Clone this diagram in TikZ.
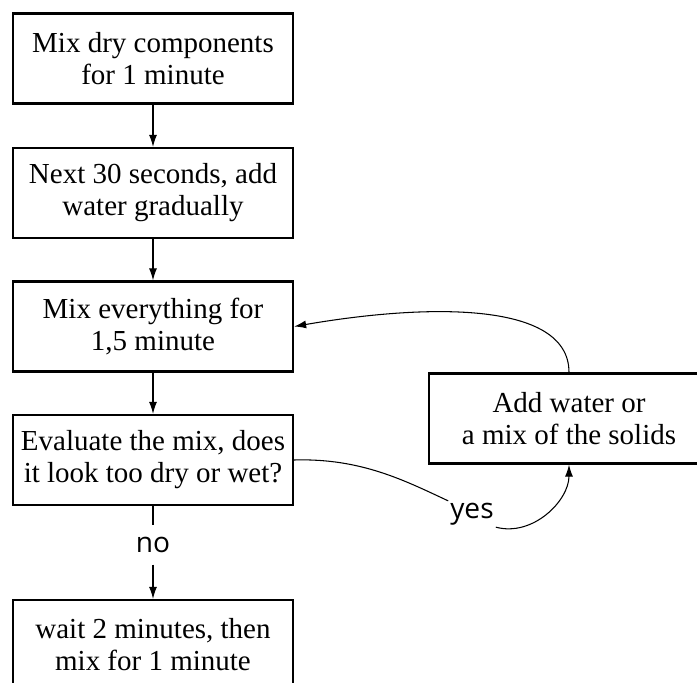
\documentclass[tikz,border=0pt]{standalone}
\usepackage{fontspec}
\setmainfont{Liberation Serif}
\newfontfamily\labelfont{Open Sans}
\usetikzlibrary{arrows.meta}

\begin{document}
\begin{tikzpicture}[
  stepbox/.style={draw, line width=1.3pt, minimum width=5.6cm, minimum height=1.8cm,
    align=center, font=\fontsize{16.5}{18.2}\selectfont},
  answer/.style={font=\labelfont\fontsize{16}{18}\selectfont},
  flow/.style={line width=0.6pt, -{Latex[length=2.4mm,width=1.6mm]}}]
%% frame of the picture, the last boxes run over the edge
\useasboundingbox (0,0) rectangle (13.94,-13.66);
\clip (0,0) rectangle (13.94,-13.66);
%% column of steps on the left
\node[stepbox] (mixdry) at (3.06,-1.17) {Mix dry components\\for 1 minute};
\node[stepbox] (addwater) at (3.06,-3.86) {Next 30 seconds, add\\water gradually};
\node[stepbox] (mixall) at (3.06,-6.53) {Mix everything for\\1,5 minute};
\node[stepbox] (evaluate) at (3.06,-9.2) {Evaluate the mix, does\\it look too dry or wet?};
\node[stepbox] (wait) at (3.06,-12.9) {wait 2 minutes, then\\mix for 1 minute};
%% correction step on the right
\node[stepbox] (correct) at (11.38,-8.37) {Add water or\\a mix of the solids};
%% answers
\node[answer, inner sep=2.3mm] (no) at (3.06,-10.9) {no};
\node[answer, inner sep=1pt] (yes) at (9.44,-10.28) {yes};
%% straight arrows down the column
\draw[flow] (mixdry) -- (addwater);
\draw[flow] (addwater) -- (mixall);
\draw[flow] (mixall) -- (evaluate);
\draw[line width=0.6pt] (evaluate) -- (no);
\draw[flow] (no) -- (wait);
%% loop back through the correction
\draw[line width=0.6pt] (evaluate.east) .. controls +(1.34,0.04) and +(-0.86,0.4) .. (yes.north west);
\draw[flow] (yes.south east) .. controls +(0.74,-0.2) and +(0,-0.72) .. (correct.south);
\draw[flow] (correct.north) .. controls +(0,1.46) and +(2.54,0.44) .. (mixall.east);
\end{tikzpicture}
\end{document}
